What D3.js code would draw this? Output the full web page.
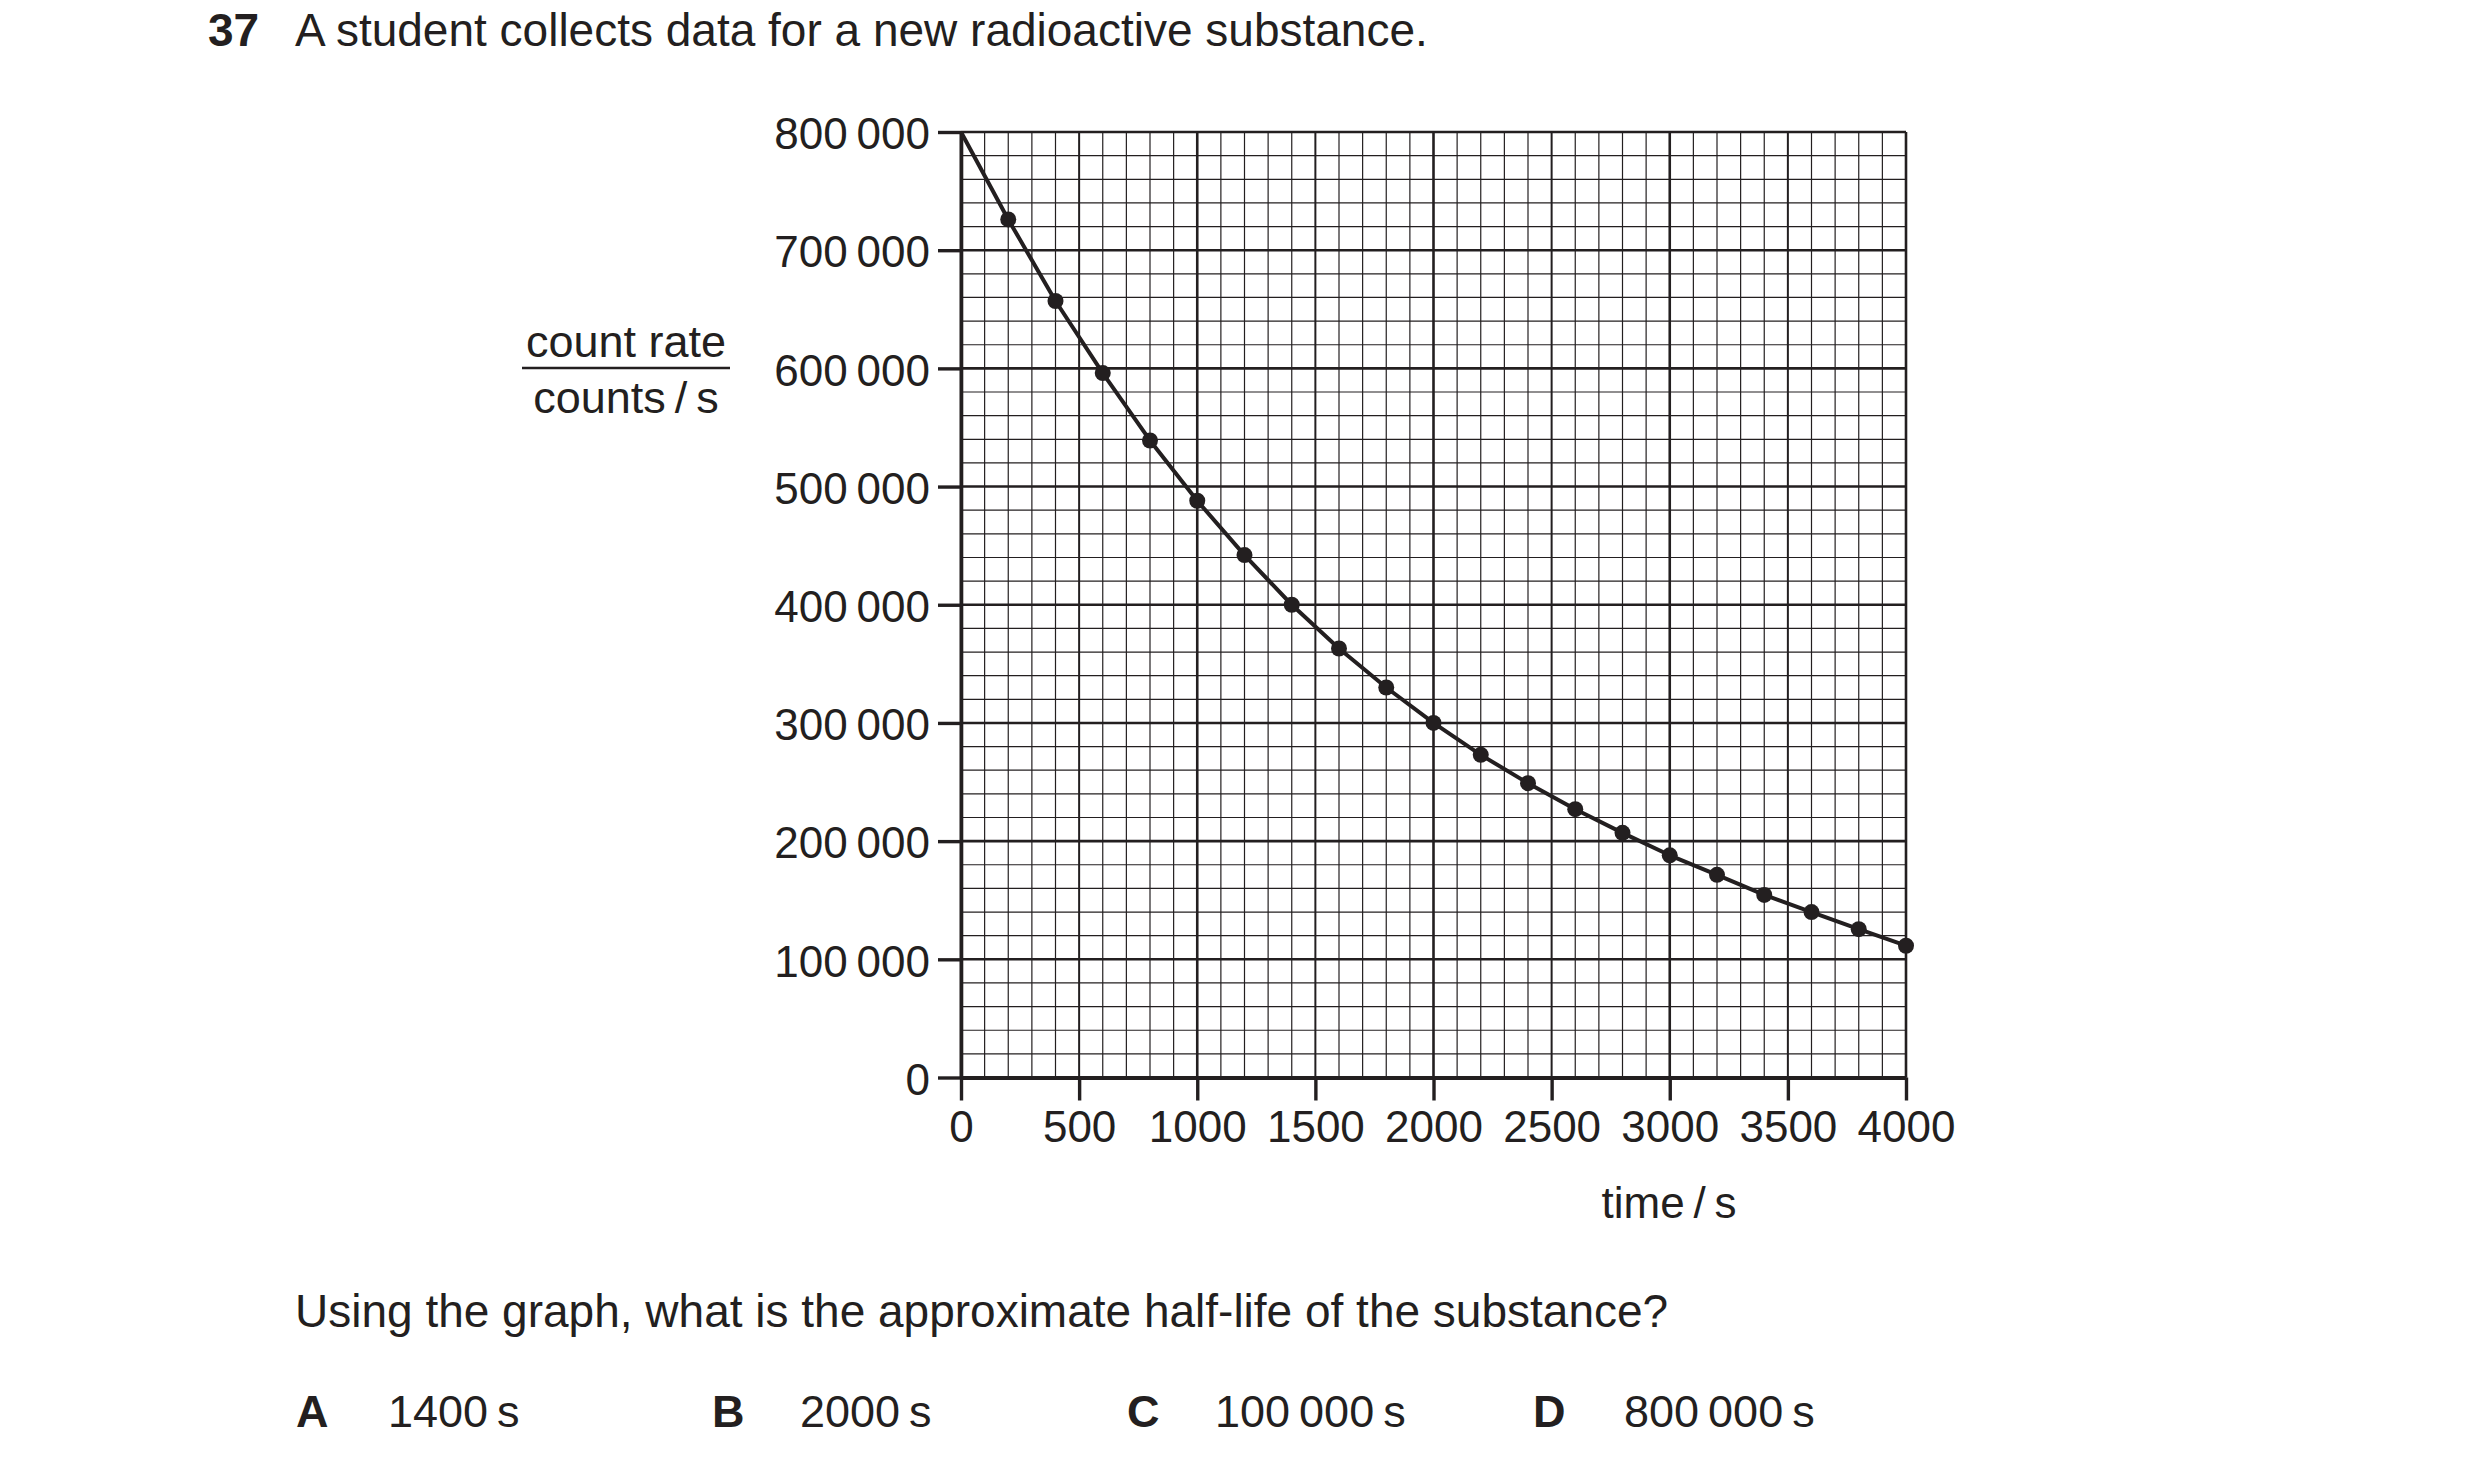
<!DOCTYPE html>
<html>
<head>
<meta charset="utf-8">
<script src="https://cdn.jsdelivr.net/npm/d3@7"></script>
<style>
  body { margin: 0; background: #fff; }
  text { font-family: "Liberation Sans", Arial, sans-serif; fill: #231f20; }
</style>
</head>
<body>
<div id="chart"></div>
<script>
// data: time (s) and count rate (counts/s)
const times = [0, 200, 400, 600, 800, 1000, 1200, 1400, 1600, 1800, 2000,
  2200, 2400, 2600, 2800, 3000, 3200, 3400, 3600, 3800, 4000]
const counts = [800000, 726000, 657000, 596000, 539000, 488000, 442000, 400000, 363000, 330000, 300000,
  273000, 249000, 227000, 207000, 188000, 171500, 154500, 140000, 125500, 111500]

const xTicks = [0, 500, 1000, 1500, 2000, 2500, 3000, 3500, 4000]
const yTicks = [0, 100000, 200000, 300000, 400000, 500000, 600000, 700000, 800000]

const title = "A student collects data for a new radioactive substance."
const question = "Using the graph, what is the approximate half-life of the substance?"
const optionLetters = ["A", "B", "C", "D"]
const optionTexts = ["1400\u2009s", "2000\u2009s", "100\u2009000\u2009s", "800\u2009000\u2009s"]

const W = 2480, H = 1468
const ink = "#231f20"

const svg = d3.select("#chart").append("svg")
  .attr("width", W)
  .attr("height", H)

const x = d3.scaleLinear().domain([0, 4000]).range([961, 1906])
const y = d3.scaleLinear().domain([0, 800000]).range([1077.5, 132])

// graph paper
const grid = svg.append("g")
grid.selectAll("line.vx")
  .data(x.ticks(40))
  .enter().append("line")
    .attr("x1", d => x(d)).attr("x2", d => x(d))
    .attr("y1", y(0)).attr("y2", y(800000))
    .attr("stroke", ink)
    .attr("stroke-width", d => d % 1000 === 0 ? 2.6 : d % 500 === 0 ? 2 : 1.2)
grid.selectAll("line.hy")
  .data(y.ticks(40))
  .enter().append("line")
    .attr("x1", x(0)).attr("x2", x(4000))
    .attr("y1", d => y(d)).attr("y2", d => y(d))
    .attr("stroke", ink)
    .attr("stroke-width", d => d % 100000 === 0 ? 2.6 : 1.2)

// axes
const fmt = v => d3.format(",")(v).replace(/,/g, "\u2009")

const yAxis = svg.append("g")
  .attr("transform", `translate(${x(0)},0)`)
  .call(d3.axisLeft(y).tickValues(yTicks).tickFormat(fmt).tickSize(23).tickSizeOuter(0).tickPadding(8))
yAxis.select(".domain").attr("stroke", ink).attr("stroke-width", 3.6)
yAxis.selectAll(".tick line").attr("stroke", ink).attr("stroke-width", 3.4)
yAxis.selectAll(".tick text")
  .attr("dy", "0.38em")
  .style("font-size", "44px")
  .style("font-family", "'Liberation Sans', Arial, sans-serif")
  .attr("fill", ink)

const xAxis = svg.append("g")
  .attr("transform", `translate(0,${y(0)})`)
  .call(d3.axisBottom(x).tickValues(xTicks).tickFormat(d3.format("d")).tickSize(23).tickSizeOuter(0).tickPadding(10))
xAxis.select(".domain").attr("stroke", ink).attr("stroke-width", 4)
xAxis.selectAll(".tick line").attr("stroke", ink).attr("stroke-width", 3.4)
xAxis.selectAll(".tick text")
  .style("font-size", "44px")
  .style("font-family", "'Liberation Sans', Arial, sans-serif")
  .attr("fill", ink)

// the data curve
const line = d3.line()
  .x((d, i) => x(times[i]))
  .y(d => y(d))
svg.append("path")
  .datum(counts)
  .attr("fill", "none")
  .attr("stroke", ink)
  .attr("stroke-width", 4)
  .attr("stroke-linejoin", "round")
  .attr("d", line)

svg.selectAll("circle.pt")
  .data(counts.slice(1))
  .enter().append("circle")
    .attr("cx", (d, i) => x(times[i + 1]))
    .attr("cy", d => y(d))
    .attr("r", 8)
    .attr("fill", ink)

// axis labels
svg.append("text")
  .attr("x", 626).attr("y", 357)
  .attr("text-anchor", "middle")
  .style("font-size", "45px")
  .text("count rate")
svg.append("line")
  .attr("x1", 522).attr("x2", 730)
  .attr("y1", 368).attr("y2", 368)
  .attr("stroke", ink).attr("stroke-width", 2.5)
svg.append("text")
  .attr("x", 626).attr("y", 413)
  .attr("text-anchor", "middle")
  .style("font-size", "45px")
  .text("counts\u2009/\u2009s")

svg.append("text")
  .attr("x", 1669).attr("y", 1218)
  .attr("text-anchor", "middle")
  .style("font-size", "44px")
  .text("time\u2009/\u2009s")

// question text
svg.append("text")
  .attr("x", 208).attr("y", 46)
  .style("font-size", "46px")
  .style("font-weight", "bold")
  .attr("fill", "#000")
  .text("37")
svg.append("text")
  .attr("x", 295).attr("y", 46)
  .style("font-size", "46px")
  .attr("fill", "#000")
  .text(title)

svg.append("text")
  .attr("x", 295).attr("y", 1327)
  .style("font-size", "46px")
  .attr("fill", "#000")
  .text(question)

const letterX = [296, 712, 1127, 1533]
const answerX = [388, 800, 1215, 1624]
optionLetters.forEach((l, i) => {
  svg.append("text")
    .attr("x", letterX[i]).attr("y", 1427)
    .style("font-size", "45px")
    .style("font-weight", "bold")
    .attr("fill", "#000")
    .text(l)
  svg.append("text")
    .attr("x", answerX[i]).attr("y", 1427)
    .style("font-size", "45px")
    .attr("fill", "#000")
    .text(optionTexts[i])
})
</script>
</body>
</html>
